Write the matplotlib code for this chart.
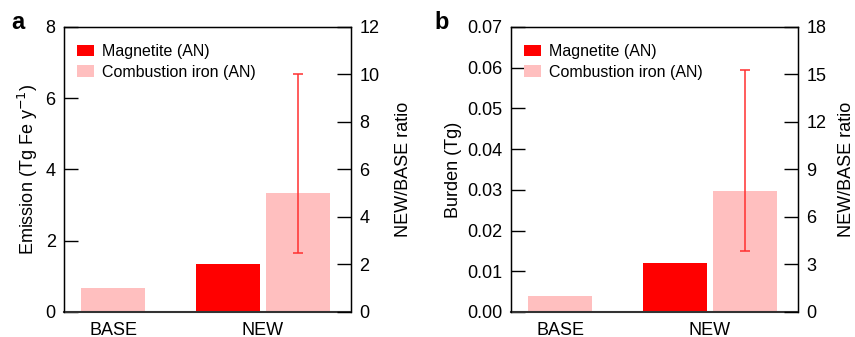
"""Anthropogenic iron: BASE vs NEW emission and burden, with NEW/BASE ratio axis."""

import matplotlib.pyplot as plt
import numpy as np

plt.rcParams["font.family"] = ["Liberation Sans", "DejaVu Sans"]

CATEGORIES = ["BASE", "NEW"]

# panel a — emission (Tg Fe / yr)
EMIS_COMB = [0.667, 3.34]
EMIS_MAG_NEW = 1.335
EMIS_ERR_NEW = (1.667, 6.667)  # low, high

# panel b — burden (Tg)
BURD_COMB = [0.0039, 0.0297]
BURD_MAG_NEW = 0.0120
BURD_ERR_NEW = (0.0150, 0.0594)

MAG_COLOR = "#ff0000"
COMB_COLOR = "#ffbfbf"
ERR_COLOR = "#ff3030"
BAR_W = 0.427
OFFSET = 0.233
FS = 13


def draw_panel(ax, comb, mag_new, err, ymax, yticks, ytick_fmt, ylabel,
               rmax, rticks, rpad):
    x = np.arange(len(CATEGORIES), dtype=float)
    comb_x = np.array([x[0], x[1] + OFFSET])
    ax.bar([x[1] - OFFSET], [mag_new], width=BAR_W, color=MAG_COLOR,
           label="Magnetite (AN)", zorder=2)
    ax.bar(comb_x, comb, width=BAR_W, color=COMB_COLOR,
           label="Combustion iron (AN)", zorder=2)
    mid = comb[1]
    ax.errorbar([comb_x[1]], [mid], yerr=[[mid - err[0]], [err[1] - mid]],
                fmt="none", ecolor=ERR_COLOR, elinewidth=1.1, capsize=3.5,
                capthick=1.1, zorder=3)

    ax.set_xlim(-0.327, 1.587)
    ax.set_ylim(0, ymax)
    ax.set_yticks(yticks)
    ax.set_yticklabels([ytick_fmt.format(v) for v in yticks])
    ax.set_xticks(x)
    ax.set_xticklabels(CATEGORIES)
    ax.tick_params(axis="y", direction="in", length=10, width=1, pad=6,
                   labelsize=FS)
    ax.tick_params(axis="x", length=0, pad=7, labelsize=FS)
    ax.set_ylabel(ylabel, fontsize=FS, labelpad=4)
    for sp in ax.spines.values():
        sp.set_linewidth(1.0)
    ax.spines["bottom"].set_linewidth(1.5)
    ax.spines["bottom"].set_color("#333333")

    ax.legend(loc="upper left", frameon=False, fontsize=11.5,
              handlelength=1.1, handleheight=0.7, handletextpad=0.5,
              labelspacing=0.35, borderaxespad=0.4, bbox_to_anchor=(0.0, 0.985))

    rax = ax.twinx()
    rax.set_ylim(0, rmax)
    rax.set_yticks(rticks)
    rax.tick_params(axis="y", direction="in", length=10, width=1, pad=6,
                    labelsize=FS)
    rax.set_ylabel("NEW/BASE ratio", fontsize=FS, labelpad=rpad)
    rax.spines["bottom"].set_visible(False)


fig = plt.figure(figsize=(8.55, 3.37), dpi=100)
ax_a = fig.add_axes([0.0749, 0.0742, 0.3357, 0.8457])
ax_b = fig.add_axes([0.5977, 0.0742, 0.3357, 0.8457])

draw_panel(ax_a, EMIS_COMB, EMIS_MAG_NEW, EMIS_ERR_NEW, 8, [0, 2, 4, 6, 8],
           "{:g}", "Emission (Tg Fe y$^{-1}$)", 12, [0, 2, 4, 6, 8, 10, 12], 11)
draw_panel(ax_b, BURD_COMB, BURD_MAG_NEW, BURD_ERR_NEW, 0.07,
           [0, 0.01, 0.02, 0.03, 0.04, 0.05, 0.06, 0.07], "{:.2f}",
           "Burden (Tg)", 18, [0, 3, 6, 9, 12, 15, 18], 8)

fig.text(0.0129, 0.914, "a", fontsize=17, fontweight="bold", va="baseline")
fig.text(0.508, 0.914, "b", fontsize=17, fontweight="bold", va="baseline")

fig.savefig("out.png", dpi=100)
